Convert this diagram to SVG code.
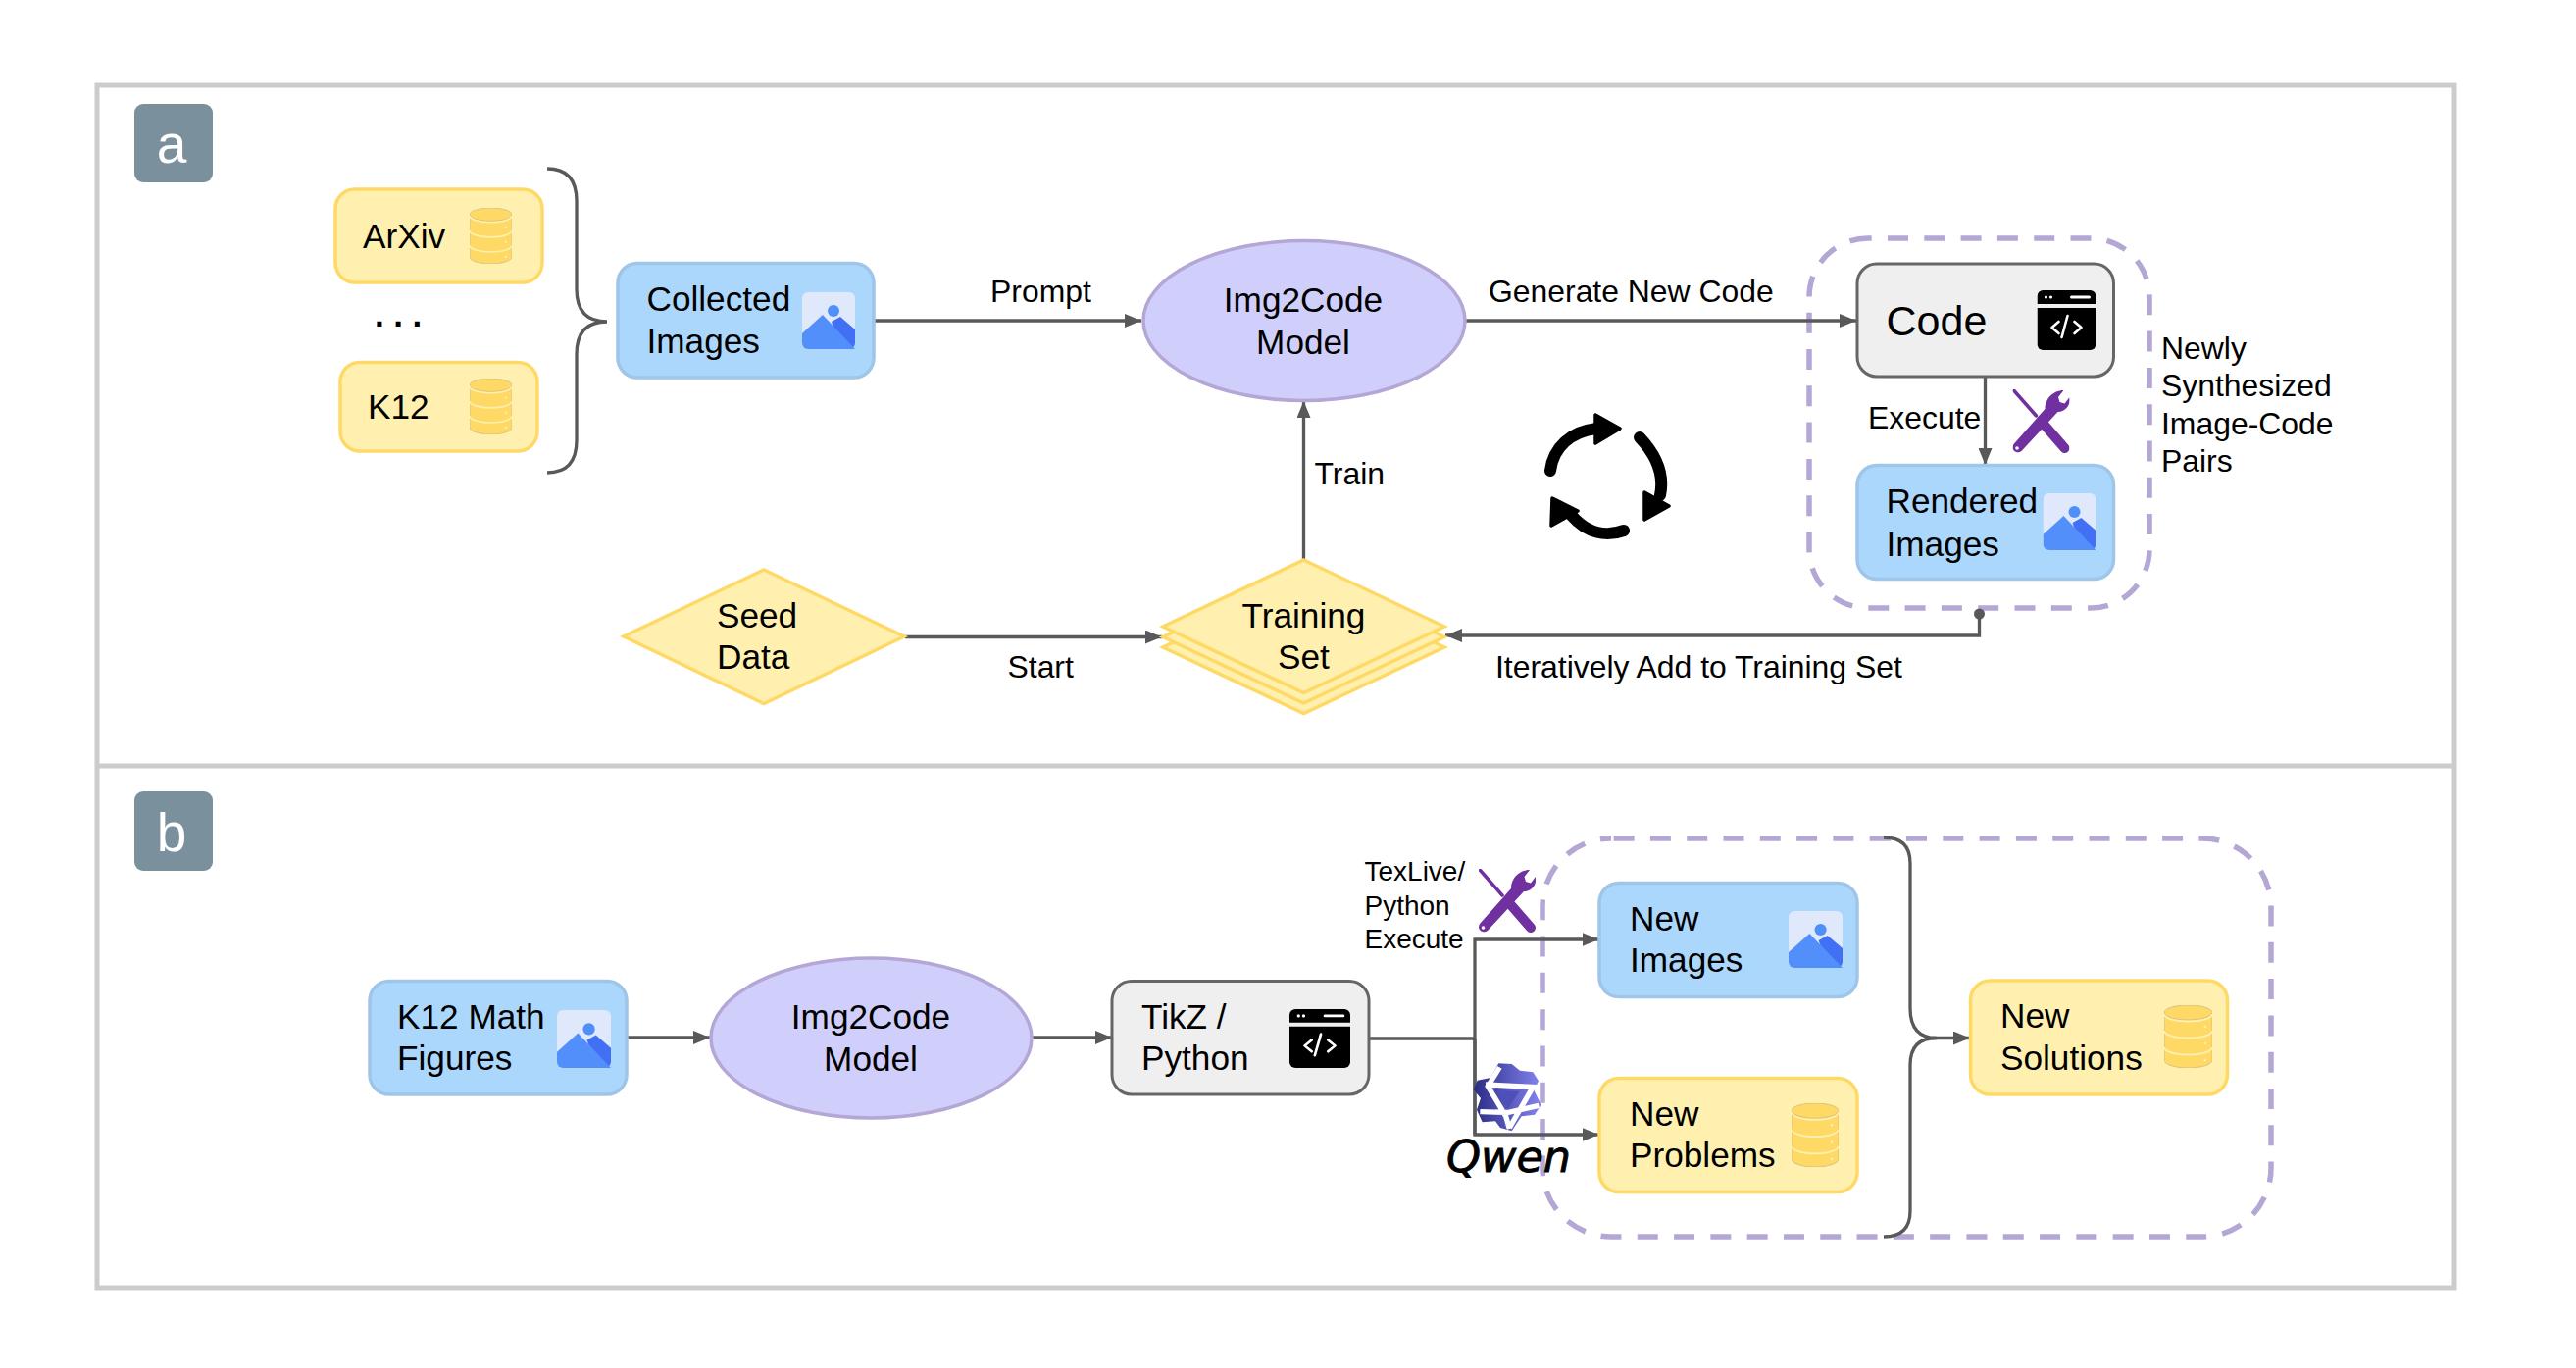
<svg xmlns="http://www.w3.org/2000/svg" width="2627" height="1395" viewBox="0 0 2627 1395">
<style>
text{font-family:"Liberation Sans",Arial,sans-serif;fill:#000}
.n{font-size:35.2px}.e{font-size:31.900px}.s{font-size:28px}
.blue{fill:#acd7fc;stroke:#9fc5e8;stroke-width:3.500}
.yel{fill:#fff0b0;stroke:#ffd966;stroke-width:3.500}
.gry{fill:#efefef;stroke:#666;stroke-width:3}
.ell{fill:#d0cffb;stroke:#b4a7d6;stroke-width:3.500}
.dash{fill:none;stroke:#b4a7d6;stroke-width:5.500;stroke-dasharray:21 16.300}
.c{fill:none;stroke:#595959;stroke-width:3.300}
.ar{marker-end:url(#arrow)}
.lab{fill:#7a909c}
.m{text-anchor:middle}
</style>
<defs>
<marker id="arrow" markerUnits="userSpaceOnUse" markerWidth="18" markerHeight="14" refX="17" refY="7" orient="auto"><path d="M0 0L17 7L0 14Z" fill="#595959"/></marker>
<symbol id="img" viewBox="0 0 54 58" preserveAspectRatio="none">
<rect x="0" y="0" width="54" height="58" rx="6" fill="#dfe9fb"/>
<circle cx="32" cy="19" r="6" fill="#4f8ff9"/>
<path d="M30 30L39 25L54 38V52a6 6 0 0 1-6 6H40Z" fill="#4170f5"/>
<path d="M0 42L21 23L54 58H6a6 6 0 0 1-6-6Z" fill="#528ffa"/>
</symbol>
<symbol id="db" viewBox="0 0 48 64" preserveAspectRatio="none">
<path d="M0 8V56A24 8 0 0 0 48 56V8Z" fill="#ffd966" stroke="#cdbb80" stroke-width=".8"/>
<ellipse cx="24" cy="7.500" rx="24" ry="7.500" fill="#ffd966" stroke="#cdbb80" stroke-width=".8"/>
<path d="M0 9A24 7.500 0 0 0 48 9M0 26A24 7.500 0 0 0 48 26M0 43A24 7.500 0 0 0 48 43" fill="none" stroke="#fff0b0" stroke-width="1.800"/>
<circle cx="41" cy="22" r="1.300" fill="#fff0b0"/><circle cx="41" cy="39" r="1.300" fill="#fff0b0"/><circle cx="41" cy="56" r="1.300" fill="#fff0b0"/>
</symbol>
<symbol id="code" viewBox="0 0 60 61" preserveAspectRatio="none">
<path d="M6 0H54a6 6 0 0 1 6 6V14H0V6a6 6 0 0 1 6-6Z" fill="#000"/>
<path d="M0 18H60V55a6 6 0 0 1-6 6H6a6 6 0 0 1-6-6Z" fill="#000"/>
<circle cx="9" cy="7" r="1.600" fill="#fff"/><circle cx="14" cy="7" r="1.600" fill="#fff"/>
<path d="M35 7H53" stroke="#fff" stroke-width="3" stroke-linecap="round"/>
<path d="M22 32L15 38L22 44M38 32L45 38L38 44M31 26L25 48" fill="none" stroke="#fff" stroke-width="2.600" stroke-linecap="round" stroke-linejoin="round"/>
</symbol>
<symbol id="tools" viewBox="0 0 58 65" preserveAspectRatio="none">
<path d="M1.500 1.500L24 27" fill="none" stroke="#7030a0" stroke-width="3.500" stroke-linecap="round"/>
<path d="M33 37L53 60" fill="none" stroke="#7030a0" stroke-width="10" stroke-linecap="round"/>
<path d="M52 1L46.500 8L48 13L53 14.500L58 8C59.500 16 54 23 46 23L9 63C5 66 0 63 0 59.500Q0 57.500 1 56L33 20C33 10 41 1 52 1Z" fill="#7030a0"/>
<circle cx="4.500" cy="60" r="1.800" fill="#fff"/>
</symbol>
<linearGradient id="qw" x1="0" y1="0" x2="1" y2="0"><stop offset="0" stop-color="#2b2b85"/><stop offset="1" stop-color="#8583f0"/></linearGradient>
</defs>

<g id="panels" fill="none" stroke="#ccc" stroke-width="5">
<rect x="99" y="87" width="2404" height="1226"/>
<path d="M99 781H2503"/>
</g>

<g id="label-a"><rect class="lab" x="137" y="106" width="80" height="80" rx="9"/><text x="175" y="166" font-size="55" class="m" style="fill:#fff">a</text></g>
<g id="label-b"><rect class="lab" x="137" y="807" width="80" height="81" rx="9"/><text x="175" y="868" font-size="55" class="m" style="fill:#fff">b</text></g>

<g id="group-newly"><rect class="dash" x="1845" y="243" width="347" height="377" rx="60" stroke-dashoffset="-20"/></g>
<g id="group-new"><rect class="dash" x="1573" y="855" width="743" height="406" rx="70" stroke-dashoffset="-2.600"/></g>

<g id="connectors">
<path class="c" d="M558 172Q588 172 588 205V295Q588 328 619 328Q588 328 588 361V449Q588 482 558 482"/>
<path class="c ar" d="M891 327H1164"/>
<path class="c ar" d="M1494 327H1893"/>
<path class="c ar" d="M2024.500 384V474"/>
<path class="c ar" d="M1329.500 570V409"/>
<path class="c ar" d="M923 649.500H1185"/>
<path class="c ar" d="M2018.500 626V648H1474"/>
<circle cx="2018.500" cy="626" r="5.500" fill="#595959"/>
<path class="c ar" d="M639 1058H724"/>
<path class="c ar" d="M1052 1058H1134"/>
<path class="c" d="M1396 1059H1504"/>
<path class="c ar" d="M1504 1157V958H1630.500"/>
<path class="c ar" d="M1504 1059V1157H1630.500"/>
<path class="c" d="M1921 854Q1948 854 1948 880V1028Q1948 1058.500 1975 1058.500Q1948 1058.500 1948 1086V1235Q1948 1261 1921 1261"/>
<path class="c ar" d="M1970 1058.500H2009"/>
<text class="e" x="1010" y="308">Prompt</text>
<text class="e" x="1518" y="308">Generate New Code</text>
<text class="e" x="1905" y="437">Execute</text>
<text class="e" x="1340.500" y="494">Train</text>
<text class="e" x="1027.500" y="691">Start</text>
<text class="e" x="1525" y="691">Iteratively Add to Training Set</text>
<text class="e"><tspan x="2204" y="366">Newly</tspan><tspan x="2204" y="404">Synthesized</tspan><tspan x="2204" y="442.500">Image-Code</tspan><tspan x="2204" y="481">Pairs</tspan></text>
<text class="s"><tspan x="1391.500" y="898">TexLive/</tspan><tspan x="1391.500" y="932.500">Python</tspan><tspan x="1391.500" y="967">Execute</tspan></text>
</g>

<g id="arxiv"><rect class="yel" x="342" y="193" width="211" height="95" rx="20"/><text class="n" x="370" y="253">ArXiv</text><use href="#db" x="479" y="212" width="43" height="57"/></g>
<g id="dots"><text x="382" y="333" font-size="35" font-weight="bold" letter-spacing="9.500">...</text></g>
<g id="k12"><rect class="yel" x="347" y="369.500" width="201" height="90.500" rx="20"/><text class="n" x="375" y="427">K12</text><use href="#db" x="479" y="386" width="43" height="57"/></g>
<g id="collected"><rect class="blue" x="630" y="268.500" width="261" height="116.500" rx="20"/><text class="n"><tspan x="659.500" y="317">Collected</tspan><tspan x="659.500" y="360">Images</tspan></text><use href="#img" x="818" y="298" width="54" height="58"/></g>
<g id="model-a"><ellipse class="ell" cx="1330" cy="327" rx="164" ry="81.500"/><text class="n m"><tspan x="1329" y="318">Img2Code</tspan><tspan x="1329" y="361">Model</tspan></text></g>
<g id="code-a"><rect class="gry" x="1894" y="269" width="261.500" height="115" rx="20"/><text x="1923.500" y="342" font-size="43">Code</text><use href="#code" x="2077.500" y="296" width="60" height="61"/></g>
<g id="tools-a"><use href="#tools" x="2052.500" y="397" width="58" height="65"/></g>
<g id="rendered"><rect class="blue" x="1894" y="474.500" width="261.500" height="116" rx="20"/><text class="n"><tspan x="1923.500" y="523">Rendered</tspan><tspan x="1923.500" y="566.500">Images</tspan></text><use href="#img" x="2083.500" y="503" width="54" height="58"/></g>
<g id="seed"><path class="yel" d="M779 581L922 649L779 717.500L636 649Z"/><text class="n"><tspan x="731" y="640">Seed</tspan><tspan x="731" y="682">Data</tspan></text></g>
<g id="training">
<path class="yel" d="M1329.500 592L1473 660L1329.500 727.500L1186 660Z"/>
<path class="yel" d="M1329.500 581.500L1473 649.500L1329.500 717L1186 649.500Z"/>
<path class="yel" d="M1329.500 571L1473 639L1329.500 706.500L1186 639Z"/>
<text class="n m"><tspan x="1329.500" y="640">Training</tspan><tspan x="1329.500" y="682">Set</tspan></text>
</g>
<g id="cycle">
<path d="M1581 480C1584 456 1602 440 1628 437M1672 446C1691 466 1697 486 1693 505M1656 541C1637 548 1618 543 1603 526" fill="none" stroke="#000" stroke-width="12" stroke-linecap="round"/>
<path d="M1627 423L1652 437L1627 452ZM1677 502L1702 516L1677 530ZM1583 508L1609 521L1582 536Z" fill="#000" stroke="#000" stroke-width="3.500" stroke-linejoin="round"/>
</g>

<g id="k12math"><rect class="blue" x="377" y="1000.500" width="262" height="115.500" rx="20"/><text class="n"><tspan x="405" y="1049">K12 Math</tspan><tspan x="405" y="1091">Figures</tspan></text><use href="#img" x="568" y="1030" width="55" height="59"/></g>
<g id="model-b"><ellipse class="ell" cx="888.500" cy="1058.500" rx="163.500" ry="81.500"/><text class="n m"><tspan x="888" y="1049">Img2Code</tspan><tspan x="888" y="1092">Model</tspan></text></g>
<g id="tikz"><rect class="gry" x="1134" y="1000.500" width="262" height="115.500" rx="20"/><text class="n"><tspan x="1164" y="1049">TikZ /</tspan><tspan x="1164" y="1091">Python</tspan></text><use href="#code" x="1315" y="1029" width="62" height="60"/></g>
<g id="tools-b"><use href="#tools" x="1508" y="886" width="58" height="65"/></g>
<g id="qwen">
<g transform="translate(1470 1075) scale(.33333)">
<path d="M175 28L215 30L240 50L280 55L297 82L283 110L305 155L285 185L245 190L215 235L180 225L165 205L125 208L108 170L120 135L98 108L110 80L150 72Z" fill="url(#qw)"/>
<path d="M178 40L142 98L197 190L208 228M135 93L280 100L208 225M118 176L205 178L298 157" fill="none" stroke="#fff" stroke-width="16" stroke-linejoin="miter"/>
<path d="M170 113H238L203 168Z" fill="#4f4fb8"/>
</g>
<text x="1475" y="1195" font-size="44.500" font-style="italic" stroke="#000" stroke-width=".9" style="font-family:'DejaVu Sans',sans-serif">Qwen</text>
</g>
<g id="new-images"><rect class="blue" x="1631" y="900.500" width="263" height="116" rx="20"/><text class="n"><tspan x="1662" y="949">New</tspan><tspan x="1662" y="991">Images</tspan></text><use href="#img" x="1824" y="929" width="55" height="58"/></g>
<g id="new-problems"><rect class="yel" x="1631" y="1099.500" width="263" height="116" rx="20"/><text class="n"><tspan x="1662" y="1148">New</tspan><tspan x="1662" y="1190">Problems</tspan></text><use href="#db" x="1827" y="1125" width="48" height="65"/></g>
<g id="new-solutions"><rect class="yel" x="2009.500" y="1000" width="262" height="116" rx="20"/><text class="n"><tspan x="2040" y="1048">New</tspan><tspan x="2040" y="1091">Solutions</tspan></text><use href="#db" x="2207" y="1025" width="49" height="64"/></g>
</svg>
